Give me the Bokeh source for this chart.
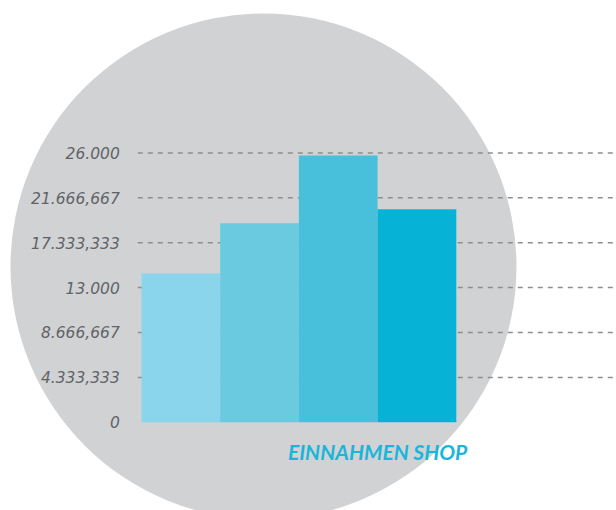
from bokeh.plotting import figure
from bokeh.models import ColumnDataSource, Range1d
from bokeh.core.properties import value
from bokeh.embed import file_html
from bokeh.resources import INLINE

# ---- data ----
categories = ["1", "2", "3", "4"]
revenues = [14350, 19200, 25750, 20550]
bar_colors = ["#8AD4EC", "#69CAE0", "#48BFDB", "#07B2D7"]
tick_values = [0, 4333.333, 8666.667, 13000, 17333.333, 21666.667, 26000]
tick_labels = ["0", "4.333,333", "8.666,667", "13.000", "17.333,333", "21.666,667", "26.000"]
title_text = "EINNAHMEN SHOP"

W, H = 616, 510
p = figure(width=W, height=H, output_backend="svg", toolbar_location=None,
           x_axis_type=None, y_axis_type=None, min_border=0,
           x_range=Range1d(-1.7916, 6.0356), y_range=Range1d(-8512, 40707))
p.outline_line_color = None
p.background_fill_color = "white"
p.border_fill_color = "white"
p.grid.visible = False

# background circle
p.circle(x=[1.55], y=[15036], radius=253, radius_units="screen",
         fill_color="#D1D2D4", line_color=None)

# dashed grid lines (no line at 0)
gl = [v for v in tick_values if v > 0]
p.segment(x0=[-0.047] * len(gl), y0=gl, x1=[6.5] * len(gl), y1=gl,
          line_color="#8E8E8E", line_width=1.5, line_dash="5 5")

# bars
src = ColumnDataSource(dict(x=[i + 0.5 for i in range(len(categories))],
                            top=revenues, color=bar_colors))
p.vbar(x="x", top="top", bottom=0, width=1.0, fill_color="color",
       line_color=None, source=src)

# tick labels
p.text(x=[-0.047] * len(tick_values), y=tick_values, text=tick_labels,
       x_offset=-18, text_align="right", text_baseline="middle",
       text_font=value("DejaVu Sans"), text_font_style="italic",
       text_font_size="15.5px", text_color="#5F6368")

# title
p.text(x=[3.0], y=[0], text=[title_text], y_offset=29,
       text_align="center", text_baseline="alphabetic",
       text_font=value("Lato"), text_font_style="bold italic",
       text_font_size="21px", text_color="#1BB5DA")

open("out.html", "w").write(file_html(p, INLINE))
